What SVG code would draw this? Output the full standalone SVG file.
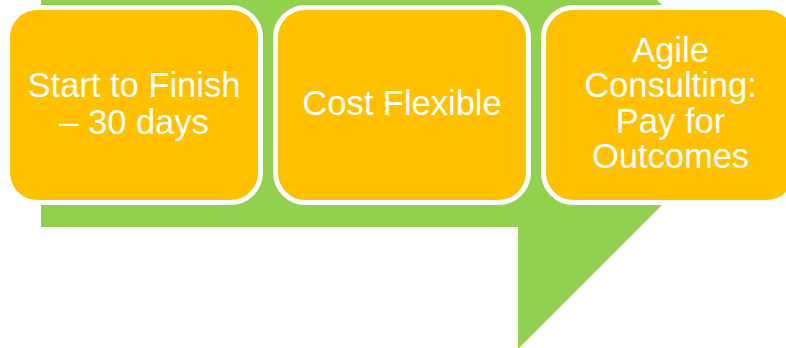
<svg xmlns="http://www.w3.org/2000/svg" width="786" height="348" viewBox="0 0 786 348">
<style>
.box{fill:#FFC000;stroke:#FFFFFF;stroke-width:5}
.lbl{fill:#FFFFFF;font-family:"Liberation Sans",Arial,sans-serif;font-size:34.5px;text-anchor:middle}
</style>
<rect width="786" height="348" fill="#FFFFFF"/>
<g id="connectors">
<polygon points="41,-2 655,-2 762,105 519,348 518,349 518,227 41,227" fill="#92D050"/>
</g>
<g id="node1">
<rect class="box" x="7.5" y="7.5" width="253" height="195" rx="30" ry="30"/>
<text class="lbl" x="134" y="97">Start to Finish</text>
<text class="lbl" x="134" y="134">– 30 days</text>
</g>
<g id="node2">
<rect class="box" x="275.5" y="7.5" width="253" height="195" rx="30" ry="30"/>
<text class="lbl" x="402" y="115">Cost Flexible</text>
</g>
<g id="node3">
<rect class="box" x="543.5" y="7.5" width="253" height="195" rx="30" ry="30"/>
<text class="lbl" x="670.5" y="61.5">Agile</text>
<text class="lbl" x="670.5" y="97">Consulting:</text>
<text class="lbl" x="670.5" y="132.5">Pay for</text>
<text class="lbl" x="670.5" y="168">Outcomes</text>
</g>
</svg>
